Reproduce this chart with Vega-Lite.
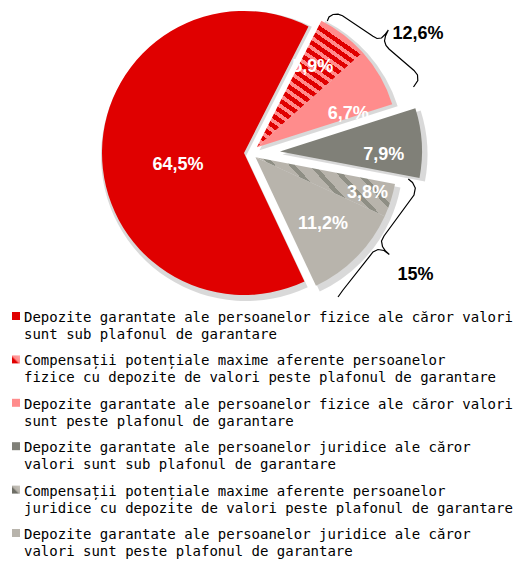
{
  "$schema": "https://vega.github.io/schema/vega-lite/v6.json",
  "padding": 0,
  "spacing": 0,
  "background": "white",
  "config": {"view": {"stroke": null}},
  "datasets": {
    "slices": [
      {"n": 1, "value": 64.5, "label": "64,5%", "grp": "A", "ord": 6, "l1": "Depozite garantate ale persoanelor fizice ale căror valori", "l2": "sunt sub plafonul de garantare"},
      {"n": 2, "value": 5.9, "label": "5,9%", "grp": "B", "ord": 1, "l1": "Compensații potențiale maxime aferente persoanelor", "l2": "fizice cu depozite de valori peste plafonul de garantare"},
      {"n": 3, "value": 6.7, "label": "6,7%", "grp": "B", "ord": 2, "l1": "Depozite garantate ale persoanelor fizice ale căror valori", "l2": "sunt peste plafonul de garantare"},
      {"n": 4, "value": 7.9, "label": "7,9%", "grp": "C", "ord": 3, "l1": "Depozite garantate ale persoanelor juridice ale căror", "l2": "valori sunt sub plafonul de garantare"},
      {"n": 5, "value": 3.8, "label": "3,8%", "grp": "D", "ord": 4, "l1": "Compensații potențiale maxime aferente persoanelor", "l2": "juridice cu depozite de valori peste plafonul de garantare"},
      {"n": 6, "value": 11.2, "label": "11,2%", "grp": "D", "ord": 5, "l1": "Depozite garantate ale persoanelor juridice ale căror", "l2": "valori sunt peste plafonul de garantare"}
    ],
    "braces": [
      {"b": "up", "i": 1, "x": 327.3, "y": 21},
      {"b": "up", "i": 2, "x": 329, "y": 17},
      {"b": "up", "i": 3, "x": 333, "y": 14.5},
      {"b": "up", "i": 4, "x": 338, "y": 14.2},
      {"b": "up", "i": 5, "x": 342.5, "y": 15.8},
      {"b": "up", "i": 6, "x": 373, "y": 36.3},
      {"b": "up", "i": 7, "x": 377, "y": 38.5},
      {"b": "up", "i": 8, "x": 381.5, "y": 38},
      {"b": "up", "i": 9, "x": 385, "y": 34.5},
      {"b": "up", "i": 10, "x": 388.3, "y": 30},
      {"b": "up", "i": 11, "x": 385.5, "y": 36},
      {"b": "up", "i": 12, "x": 384.5, "y": 41},
      {"b": "up", "i": 13, "x": 386, "y": 45.5},
      {"b": "up", "i": 14, "x": 389, "y": 49},
      {"b": "up", "i": 15, "x": 414, "y": 70.5},
      {"b": "up", "i": 16, "x": 417.5, "y": 75},
      {"b": "up", "i": 17, "x": 417.8, "y": 80.5},
      {"b": "up", "i": 18, "x": 413.5, "y": 87},
      {"b": "lo", "i": 1, "x": 408.3, "y": 179},
      {"b": "lo", "i": 2, "x": 412.5, "y": 182.5},
      {"b": "lo", "i": 3, "x": 415.3, "y": 188},
      {"b": "lo", "i": 4, "x": 414, "y": 195},
      {"b": "lo", "i": 5, "x": 384, "y": 236},
      {"b": "lo", "i": 6, "x": 381.5, "y": 241},
      {"b": "lo", "i": 7, "x": 382.5, "y": 246.5},
      {"b": "lo", "i": 8, "x": 385.5, "y": 251},
      {"b": "lo", "i": 9, "x": 389.3, "y": 254.5},
      {"b": "lo", "i": 10, "x": 384, "y": 250.5},
      {"b": "lo", "i": 11, "x": 378, "y": 249.5},
      {"b": "lo", "i": 12, "x": 373, "y": 252},
      {"b": "lo", "i": 13, "x": 343, "y": 290},
      {"b": "lo", "i": 14, "x": 338, "y": 297}
    ],
    "totals": [
      {"t": "12,6%", "x": 418, "y": 33.5},
      {"t": "15%", "x": 415.5, "y": 275}
    ]
  },
  "vconcat": [
    {
      "width": 500,
      "height": 306,
      "data": {"name": "slices"},
      "layer": [
        {
          "mark": {"type": "arc", "radius": 145, "xOffset": -4, "yOffset": 3, "fill": "#000"},
          "encoding": {
            "theta": {"field": "value", "type": "quantitative", "stack": true, "scale": {"range": [0.4712, 6.7544]}},
            "order": {"field": "ord", "type": "quantitative"},
            "opacity": {"condition": {"test": "datum.grp === 'A'", "value": 0.15}, "value": 0}
          }
        },
        {
          "mark": {"type": "arc", "radius": 145, "xOffset": 9.5, "yOffset": -2.8, "fill": "#000"},
          "encoding": {
            "theta": {"field": "value", "type": "quantitative", "stack": true, "scale": {"range": [0.4712, 6.7544]}},
            "order": {"field": "ord", "type": "quantitative"},
            "opacity": {"condition": {"test": "datum.grp === 'B'", "value": 0.15}, "value": 0}
          }
        },
        {
          "mark": {"type": "arc", "radius": 145, "xOffset": 32.5, "yOffset": 1.4, "fill": "#000"},
          "encoding": {
            "theta": {"field": "value", "type": "quantitative", "stack": true, "scale": {"range": [0.4712, 6.7544]}},
            "order": {"field": "ord", "type": "quantitative"},
            "opacity": {"condition": {"test": "datum.grp === 'C'", "value": 0.15}, "value": 0}
          }
        },
        {
          "mark": {"type": "arc", "radius": 145, "xOffset": 8, "yOffset": 7.3, "fill": "#000"},
          "encoding": {
            "theta": {"field": "value", "type": "quantitative", "stack": true, "scale": {"range": [0.4712, 6.7544]}},
            "order": {"field": "ord", "type": "quantitative"},
            "opacity": {"condition": {"test": "datum.grp === 'D'", "value": 0.15}, "value": 0}
          }
        },
        {
          "mark": {"type": "arc", "radius": 142, "xOffset": -6, "yOffset": 0, "fill": "#E00000"},
          "encoding": {
            "theta": {"field": "value", "type": "quantitative", "stack": true, "scale": {"range": [0.4712, 6.7544]}},
            "order": {"field": "ord", "type": "quantitative"},
            "opacity": {"condition": {"test": "datum.grp === 'A'", "value": 1}, "value": 0}
          }
        },
        {
          "mark": {"type": "arc", "radius": 142, "xOffset": 6.9, "yOffset": -5.8},
          "encoding": {
            "theta": {"field": "value", "type": "quantitative", "stack": true, "scale": {"range": [0.4712, 6.7544]}},
            "order": {"field": "ord", "type": "quantitative"},
            "opacity": {"condition": {"test": "datum.grp === 'B'", "value": 1}, "value": 0},
            "fill": {
              "condition": {"test": "datum.ord === 1", "value": {"gradient": "linear", "x1": 0, "y1": 1, "x2": 0.587, "y2": 0, "stops": [
                {"offset": 0, "color": "#E00000"}, {"offset": 0.0324, "color": "#E00000"}, {"offset": 0.0324, "color": "#FF8C8C"}, {"offset": 0.0588, "color": "#FF8C8C"},
                {"offset": 0.0588, "color": "#E00000"}, {"offset": 0.0912, "color": "#E00000"}, {"offset": 0.0912, "color": "#FF8C8C"}, {"offset": 0.1176, "color": "#FF8C8C"},
                {"offset": 0.1176, "color": "#E00000"}, {"offset": 0.15, "color": "#E00000"}, {"offset": 0.15, "color": "#FF8C8C"}, {"offset": 0.1765, "color": "#FF8C8C"},
                {"offset": 0.1765, "color": "#E00000"}, {"offset": 0.2089, "color": "#E00000"}, {"offset": 0.2089, "color": "#FF8C8C"}, {"offset": 0.2353, "color": "#FF8C8C"},
                {"offset": 0.2353, "color": "#E00000"}, {"offset": 0.2677, "color": "#E00000"}, {"offset": 0.2677, "color": "#FF8C8C"}, {"offset": 0.2941, "color": "#FF8C8C"},
                {"offset": 0.2941, "color": "#E00000"}, {"offset": 0.3265, "color": "#E00000"}, {"offset": 0.3265, "color": "#FF8C8C"}, {"offset": 0.3529, "color": "#FF8C8C"},
                {"offset": 0.3529, "color": "#E00000"}, {"offset": 0.3853, "color": "#E00000"}, {"offset": 0.3853, "color": "#FF8C8C"}, {"offset": 0.4118, "color": "#FF8C8C"},
                {"offset": 0.4118, "color": "#E00000"}, {"offset": 0.4442, "color": "#E00000"}, {"offset": 0.4442, "color": "#FF8C8C"}, {"offset": 0.4706, "color": "#FF8C8C"},
                {"offset": 0.4706, "color": "#E00000"}, {"offset": 0.503, "color": "#E00000"}, {"offset": 0.503, "color": "#FF8C8C"}, {"offset": 0.5294, "color": "#FF8C8C"},
                {"offset": 0.5294, "color": "#E00000"}, {"offset": 0.5618, "color": "#E00000"}, {"offset": 0.5618, "color": "#FF8C8C"}, {"offset": 0.5882, "color": "#FF8C8C"},
                {"offset": 0.5882, "color": "#E00000"}, {"offset": 0.6206, "color": "#E00000"}, {"offset": 0.6206, "color": "#FF8C8C"}, {"offset": 0.6471, "color": "#FF8C8C"},
                {"offset": 0.6471, "color": "#E00000"}, {"offset": 0.6795, "color": "#E00000"}, {"offset": 0.6795, "color": "#FF8C8C"}, {"offset": 0.7059, "color": "#FF8C8C"},
                {"offset": 0.7059, "color": "#E00000"}, {"offset": 0.7383, "color": "#E00000"}, {"offset": 0.7383, "color": "#FF8C8C"}, {"offset": 0.7647, "color": "#FF8C8C"},
                {"offset": 0.7647, "color": "#E00000"}, {"offset": 0.7971, "color": "#E00000"}, {"offset": 0.7971, "color": "#FF8C8C"}, {"offset": 0.8235, "color": "#FF8C8C"},
                {"offset": 0.8235, "color": "#E00000"}, {"offset": 0.8559, "color": "#E00000"}, {"offset": 0.8559, "color": "#FF8C8C"}, {"offset": 0.8824, "color": "#FF8C8C"},
                {"offset": 0.8824, "color": "#E00000"}, {"offset": 0.9148, "color": "#E00000"}, {"offset": 0.9148, "color": "#FF8C8C"}, {"offset": 0.9412, "color": "#FF8C8C"},
                {"offset": 0.9412, "color": "#E00000"}, {"offset": 0.9736, "color": "#E00000"}, {"offset": 0.9736, "color": "#FF8C8C"}, {"offset": 1, "color": "#FF8C8C"}
              ]}},
              "value": "#FF8C8C"
            }
          }
        },
        {
          "mark": {"type": "arc", "radius": 142, "xOffset": 30, "yOffset": -1.6, "fill": "#808078"},
          "encoding": {
            "theta": {"field": "value", "type": "quantitative", "stack": true, "scale": {"range": [0.4712, 6.7544]}},
            "order": {"field": "ord", "type": "quantitative"},
            "opacity": {"condition": {"test": "datum.grp === 'C'", "value": 1}, "value": 0}
          }
        },
        {
          "mark": {"type": "arc", "radius": 142, "xOffset": 5.5, "yOffset": 4.3},
          "encoding": {
            "theta": {"field": "value", "type": "quantitative", "stack": true, "scale": {"range": [0.4712, 6.7544]}},
            "order": {"field": "ord", "type": "quantitative"},
            "opacity": {"condition": {"test": "datum.grp === 'D'", "value": 1}, "value": 0},
            "fill": {
              "condition": {"test": "datum.ord === 4", "value": {"gradient": "linear", "x1": 0, "y1": 1, "x2": 1, "y2": 0.616, "stops": [
                {"offset": 0, "color": "#8E8E84"}, {"offset": 0.0375, "color": "#8E8E84"}, {"offset": 0.0375, "color": "#B8B4AC"}, {"offset": 0.125, "color": "#B8B4AC"},
                {"offset": 0.125, "color": "#8E8E84"}, {"offset": 0.1625, "color": "#8E8E84"}, {"offset": 0.1625, "color": "#B8B4AC"}, {"offset": 0.25, "color": "#B8B4AC"},
                {"offset": 0.25, "color": "#8E8E84"}, {"offset": 0.2875, "color": "#8E8E84"}, {"offset": 0.2875, "color": "#B8B4AC"}, {"offset": 0.375, "color": "#B8B4AC"},
                {"offset": 0.375, "color": "#8E8E84"}, {"offset": 0.4125, "color": "#8E8E84"}, {"offset": 0.4125, "color": "#B8B4AC"}, {"offset": 0.5, "color": "#B8B4AC"},
                {"offset": 0.5, "color": "#8E8E84"}, {"offset": 0.5375, "color": "#8E8E84"}, {"offset": 0.5375, "color": "#B8B4AC"}, {"offset": 0.625, "color": "#B8B4AC"},
                {"offset": 0.625, "color": "#8E8E84"}, {"offset": 0.6625, "color": "#8E8E84"}, {"offset": 0.6625, "color": "#B8B4AC"}, {"offset": 0.75, "color": "#B8B4AC"},
                {"offset": 0.75, "color": "#8E8E84"}, {"offset": 0.7875, "color": "#8E8E84"}, {"offset": 0.7875, "color": "#B8B4AC"}, {"offset": 0.875, "color": "#B8B4AC"},
                {"offset": 0.875, "color": "#8E8E84"}, {"offset": 0.9125, "color": "#8E8E84"}, {"offset": 0.9125, "color": "#B8B4AC"}, {"offset": 1, "color": "#B8B4AC"}
              ]}},
              "value": "#B8B4AC"
            }
          }
        },
        {
          "mark": {"type": "text", "radius": 66, "xOffset": -6, "yOffset": 13, "font": "Liberation Sans", "fontWeight": "bold", "fontSize": 18, "fill": "white", "align": "center", "baseline": "middle"},
          "encoding": {
            "theta": {"field": "value", "type": "quantitative", "stack": true, "scale": {"range": [0.4712, 6.7544]}},
            "order": {"field": "ord", "type": "quantitative"},
            "text": {"field": "label"},
            "opacity": {"condition": {"test": "datum.ord === 6", "value": 1}, "value": 0}
          }
        },
        {
          "mark": {"type": "text", "radius": 98, "xOffset": 2.9, "yOffset": -8.8, "font": "Liberation Sans", "fontWeight": "bold", "fontSize": 18, "fill": "white", "align": "center", "baseline": "middle"},
          "encoding": {
            "theta": {"field": "value", "type": "quantitative", "stack": true, "scale": {"range": [0.4712, 6.7544]}},
            "order": {"field": "ord", "type": "quantitative"},
            "text": {"field": "label"},
            "opacity": {"condition": {"test": "datum.ord === 1", "value": 1}, "value": 0}
          }
        },
        {
          "mark": {"type": "text", "radius": 97, "xOffset": 13.9, "yOffset": 9.2, "font": "Liberation Sans", "fontWeight": "bold", "fontSize": 18, "fill": "white", "align": "center", "baseline": "middle"},
          "encoding": {
            "theta": {"field": "value", "type": "quantitative", "stack": true, "scale": {"range": [0.4712, 6.7544]}},
            "order": {"field": "ord", "type": "quantitative"},
            "text": {"field": "label"},
            "opacity": {"condition": {"test": "datum.ord === 2", "value": 1}, "value": 0}
          }
        },
        {
          "mark": {"type": "text", "radius": 104, "xOffset": 30, "yOffset": 8.4, "font": "Liberation Sans", "fontWeight": "bold", "fontSize": 18, "fill": "white", "align": "center", "baseline": "middle"},
          "encoding": {
            "theta": {"field": "value", "type": "quantitative", "stack": true, "scale": {"range": [0.4712, 6.7544]}},
            "order": {"field": "ord", "type": "quantitative"},
            "text": {"field": "label"},
            "opacity": {"condition": {"test": "datum.ord === 3", "value": 1}, "value": 0}
          }
        },
        {
          "mark": {"type": "text", "radius": 117, "xOffset": 6, "yOffset": 5, "font": "Liberation Sans", "fontWeight": "bold", "fontSize": 18, "fill": "white", "align": "center", "baseline": "middle"},
          "encoding": {
            "theta": {"field": "value", "type": "quantitative", "stack": true, "scale": {"range": [0.4712, 6.7544]}},
            "order": {"field": "ord", "type": "quantitative"},
            "text": {"field": "label"},
            "opacity": {"condition": {"test": "datum.ord === 4", "value": 1}, "value": 0}
          }
        },
        {
          "mark": {"type": "text", "radius": 95, "xOffset": 5.5, "yOffset": 4, "font": "Liberation Sans", "fontWeight": "bold", "fontSize": 18, "fill": "white", "align": "center", "baseline": "middle"},
          "encoding": {
            "theta": {"field": "value", "type": "quantitative", "stack": true, "scale": {"range": [0.4712, 6.7544]}},
            "order": {"field": "ord", "type": "quantitative"},
            "text": {"field": "label"},
            "opacity": {"condition": {"test": "datum.ord === 5", "value": 1}, "value": 0}
          }
        },
        {
          "data": {"name": "braces"},
          "mark": {"type": "line", "stroke": "#000", "strokeWidth": 1.2, "interpolate": "linear"},
          "encoding": {
            "x": {"field": "x", "type": "quantitative", "scale": {"domain": [0, 500], "nice": false, "zero": false}, "axis": null},
            "y": {"field": "y", "type": "quantitative", "scale": {"domain": [0, 306], "reverse": true, "nice": false, "zero": false}, "axis": null},
            "detail": {"field": "b"},
            "order": {"field": "i", "type": "quantitative"}
          }
        },
        {
          "data": {"name": "totals"},
          "mark": {"type": "text", "font": "Liberation Sans", "fontWeight": "bold", "fontSize": 18, "fill": "#000", "align": "center", "baseline": "middle"},
          "encoding": {
            "x": {"field": "x", "type": "quantitative"},
            "y": {"field": "y", "type": "quantitative"},
            "text": {"field": "t"}
          }
        }
      ]
    },
    {
      "width": 531,
      "height": 249,
      "data": {"name": "slices"},
      "encoding": {
        "y": {"field": "n", "type": "ordinal", "scale": {"type": "point", "padding": 0.369}, "axis": null}
      },
      "layer": [
        {
          "mark": {"type": "point", "shape": "square", "size": 64, "filled": true, "opacity": 1, "x": 16, "yOffset": -6},
          "encoding": {
            "fill": {
              "condition": [
                {"test": "datum.n === 1", "value": "#E00000"},
                {"test": "datum.n === 2", "value": {"gradient": "linear", "x1": 0, "y1": 1, "x2": 1, "y2": 0, "stops": [{"offset": 0, "color": "#E00000"}, {"offset": 0.35, "color": "#E00000"}, {"offset": 0.5, "color": "#FF8C8C"}, {"offset": 1, "color": "#FFA8A8"}]}},
                {"test": "datum.n === 3", "value": "#FF8C8C"},
                {"test": "datum.n === 4", "value": "#808078"},
                {"test": "datum.n === 5", "value": {"gradient": "linear", "x1": 0, "y1": 1, "x2": 1, "y2": 0, "stops": [{"offset": 0, "color": "#6E6E66"}, {"offset": 0.35, "color": "#6E6E66"}, {"offset": 0.5, "color": "#B8B4AC"}, {"offset": 1, "color": "#C8C4BC"}]}}
              ],
              "value": "#B8B4AC"
            }
          }
        },
        {
          "mark": {"type": "text", "x": 24, "align": "left", "baseline": "alphabetic", "font": "DejaVu Sans Mono", "fontSize": 14, "fill": "#000"},
          "encoding": {"text": {"field": "l1"}}
        },
        {
          "mark": {"type": "text", "x": 24, "dy": 17, "align": "left", "baseline": "alphabetic", "font": "DejaVu Sans Mono", "fontSize": 14, "fill": "#000"},
          "encoding": {"text": {"field": "l2"}}
        }
      ]
    }
  ]
}
